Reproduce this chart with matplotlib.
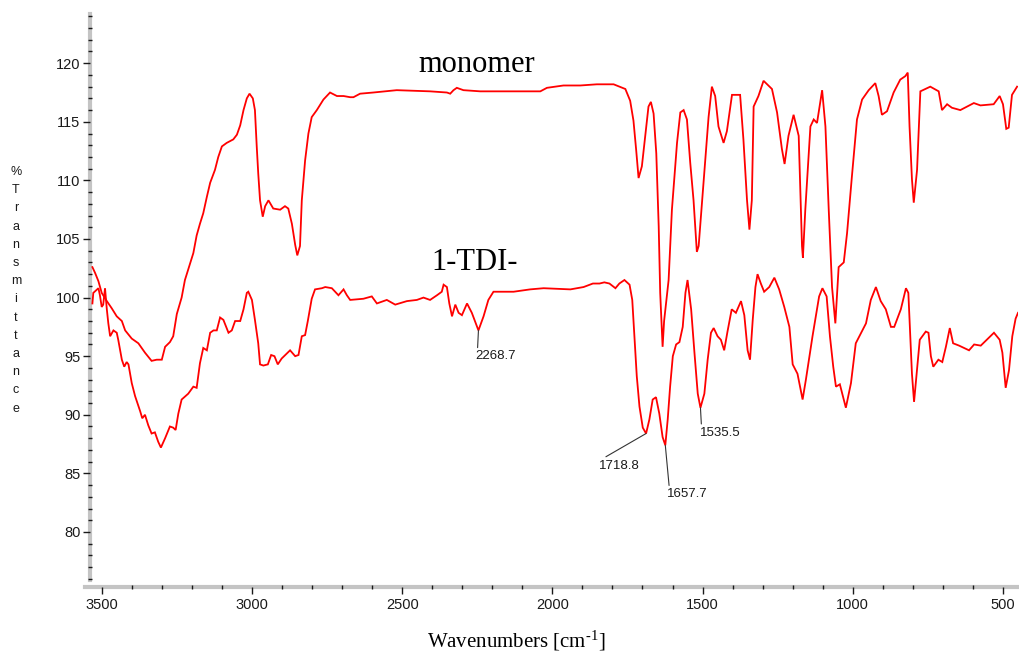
import numpy as np
import matplotlib
matplotlib.use("Agg")
import matplotlib.pyplot as plt

plt.rcParams['mathtext.default'] = 'regular'

# ---------------- data ----------------
monomer_wn = [3531, 3522, 3511, 3500, 3483, 3467, 3450, 3433, 3422, 3400, 3378, 3356, 3334, 3317,
              3300, 3289, 3273, 3262, 3250, 3234, 3223, 3206, 3195, 3184, 3173, 3162, 3150, 3139,
              3123, 3112, 3100, 3084, 3062, 3050, 3039, 3028, 3017, 3008, 2997, 2990, 2984, 2979,
              2973, 2964, 2956, 2945, 2929, 2906, 2890, 2879, 2867, 2856, 2849, 2840, 2834, 2823,
              2812, 2801, 2784, 2762, 2740, 2717, 2695, 2673, 2662, 2640, 2596, 2518, 2407, 2351,
              2340, 2329, 2318, 2296, 2240, 2129, 2040, 2018, 1963, 1907, 1852, 1796, 1757, 1741,
              1730, 1721, 1713, 1702, 1690, 1680, 1672, 1663, 1654, 1646, 1641, 1633, 1628, 1613,
              1602, 1585, 1574, 1563, 1552, 1541, 1530, 1519, 1513, 1502, 1491, 1480, 1469, 1458,
              1447, 1430, 1419, 1402, 1375, 1364, 1352, 1344, 1336, 1330, 1314, 1297, 1269, 1252,
              1236, 1227, 1214, 1197, 1180, 1169, 1166, 1158, 1141, 1130, 1119, 1102, 1091, 1080,
              1069, 1058, 1047, 1030, 1019, 1003, 986, 969, 947, 925, 914, 903, 886, 864, 842, 825,
              817, 811, 803, 797, 786, 775, 742, 714, 703, 686, 670, 642, 597, 575, 531, 511, 500,
              489, 481, 470, 453]
monomer_T = [102.6, 102.1, 101.4, 100.4, 99.7, 99.1, 98.4, 98.0, 97.2, 96.5, 96.1, 95.3, 94.6, 94.7,
             94.7, 95.8, 96.2, 96.7, 98.6, 100.0, 101.5, 102.9, 103.8, 105.3, 106.3, 107.2, 108.6, 109.8,
             110.9, 112.0, 112.9, 113.2, 113.5, 113.9, 114.7, 116.0, 117.0, 117.4, 117.0, 116.0, 112.9, 110.6,
             108.3, 106.9, 107.8, 108.3, 107.6, 107.5, 107.8, 107.6, 106.3, 104.5, 103.6, 104.4, 108.3, 111.7,
             114.0, 115.4, 116.0, 116.9, 117.5, 117.2, 117.2, 117.1, 117.1, 117.4, 117.5, 117.7, 117.6, 117.5,
             117.4, 117.7, 117.9, 117.7, 117.6, 117.6, 117.6, 117.9, 118.1, 118.1, 118.2, 118.2, 117.8, 116.8,
             115.1, 112.6, 110.2, 111.2, 114.0, 116.3, 116.7, 115.7, 112.3, 106.1, 100.4, 95.8, 98.0, 101.5,
             107.5, 113.2, 115.8, 116.0, 115.2, 111.5, 108.3, 103.9, 104.4, 108.1, 111.7, 115.4, 118.0, 117.2,
             114.6, 113.2, 114.2, 117.3, 117.3, 113.5, 108.3, 105.8, 108.3, 116.3, 117.2, 118.5, 117.8, 115.8,
             112.7, 111.4, 113.8, 115.6, 113.8, 104.4, 103.4, 107.5, 114.6, 115.2, 114.9, 117.7, 114.6, 107.5,
             100.9, 97.8, 102.6, 103.0, 105.5, 110.3, 115.2, 116.9, 117.7, 118.3, 117.2, 115.6, 115.9, 117.5, 118.6, 118.9,
             119.2, 114.6, 110.1, 108.1, 110.9, 117.6, 118.0, 117.6, 116.0, 116.5, 116.2, 116.0, 116.6, 116.4, 116.5, 117.2, 116.5,
             114.4, 114.5, 117.3, 118.0]

tdi_wn = [3531, 3528, 3511, 3506, 3500, 3495, 3489, 3483, 3478, 3472, 3461, 3450, 3445, 3433, 3425,
          3417, 3411, 3400, 3389, 3372, 3365, 3356, 3345, 3334, 3323, 3312, 3303, 3289, 3273, 3262,
          3254, 3245, 3234, 3212, 3195, 3184, 3173, 3162, 3150, 3139, 3128, 3117, 3106, 3095, 3078,
          3067, 3056, 3039, 3028, 3017, 3012, 3000, 2990, 2979, 2973, 2962, 2947, 2936, 2925, 2914,
          2901, 2873, 2856, 2845, 2834, 2823, 2814, 2801, 2790, 2767, 2756, 2734, 2712, 2695, 2684,
          2673, 2629, 2601, 2584, 2551, 2523, 2484, 2451, 2429, 2407, 2384, 2368, 2362, 2351, 2343,
          2334, 2323, 2312, 2301, 2284, 2268, 2246, 2229, 2213, 2196, 2129, 2074, 2029, 1940, 1896,
          1865, 1843, 1827, 1810, 1790, 1777, 1760, 1743, 1734, 1727, 1719, 1710, 1699, 1688, 1677,
          1666, 1655, 1644, 1633, 1624, 1616, 1608, 1599, 1588, 1577, 1566, 1557, 1550, 1538, 1527,
          1516, 1507, 1494, 1483, 1472, 1463, 1450, 1439, 1428, 1417, 1403, 1389, 1372, 1361, 1350,
          1342, 1333, 1324, 1317, 1306, 1295, 1278, 1261, 1245, 1228, 1211, 1200, 1184, 1167, 1156,
          1134, 1112, 1101, 1087, 1076, 1065, 1056, 1043, 1023, 1006, 990, 956, 940, 923, 907, 890,
          873, 862, 840, 823, 815, 810, 803, 796, 788, 777, 757, 748, 740, 732, 715, 702, 690, 677,
          666, 646, 613, 596, 574, 530, 511, 502, 491, 480, 469, 458, 450]
tdi_T = [99.5, 100.4, 100.8, 100.2, 99.2, 99.4, 100.8, 99.0, 97.8, 96.7, 97.2, 97.0, 96.4, 94.7, 94.1,
         94.5, 94.3, 92.7, 91.6, 90.3, 89.7, 90.0, 89.1, 88.4, 88.5, 87.7, 87.2, 88.0, 89.0, 88.9,
         88.7, 90.1, 91.3, 91.8, 92.4, 92.3, 94.4, 95.7, 95.5, 97.0, 97.2, 97.2, 98.3, 98.1, 97.0,
         97.2, 98.0, 98.0, 99.0, 100.4, 100.5, 99.8, 98.1, 96.1, 94.3, 94.2, 94.3, 95.1, 95.0, 94.3,
         94.8, 95.5, 95.0, 95.1, 96.7, 96.8, 98.0, 99.9, 100.7, 100.8, 100.9, 100.8, 100.2, 100.7, 100.2,
         99.8, 99.9, 100.1, 99.5, 99.8, 99.4, 99.7, 99.8, 100.0, 99.8, 100.2, 100.5, 101.1, 100.9, 99.5,
         98.4, 99.4, 98.7, 98.5, 99.5, 98.7, 97.2, 98.4, 99.8, 100.5, 100.5, 100.7, 100.8, 100.7, 100.9,
         101.2, 101.2, 101.3, 101.2, 100.8, 101.2, 101.5, 101.1, 99.8, 96.7, 93.3, 90.7, 88.9, 88.4, 89.6,
         91.3, 91.5, 90.1, 88.1, 87.4, 89.6, 92.4, 95.0, 96.0, 96.2, 97.5, 100.4, 101.5, 99.0, 95.3,
         91.8, 90.6, 91.8, 94.7, 97.0, 97.4, 96.7, 96.4, 95.5, 97.1, 99.0, 98.7, 99.7, 98.5, 95.5,
         94.7, 98.1, 100.9, 102.0, 101.2, 100.5, 100.9, 101.7, 100.7, 99.2, 97.5, 94.3, 93.5, 91.3, 93.0,
         96.7, 100.1, 100.8, 100.1, 96.7, 94.1, 92.4, 92.6, 90.6, 92.7, 96.1, 97.8, 99.8, 100.9, 99.7, 99.0,
         97.5, 97.5, 99.0, 100.8, 100.4, 97.5, 93.5, 91.1, 93.3, 96.4, 97.1, 97.0, 95.0, 94.1, 94.7, 94.5, 95.8, 97.4,
         96.1, 95.9, 95.5, 96.0, 95.9, 97.0, 96.4, 95.3, 92.3, 93.8, 96.7, 98.2, 98.7]

peak_labels = ["2268.7", "1718.8", "1657.7", "1535.5"]
peak_pos = [2246, 1688, 1624, 1507]          # where the label leaders touch the curve (axis units)

x_major = [3500, 3000, 2500, 2000, 1500, 1000, 500]
y_major = [80, 85, 90, 95, 100, 105, 110, 115, 120]

# ---------------- figure ----------------
W, H = 1019, 653
fig = plt.figure(figsize=(W / 100, H / 100), dpi=100)
fig.patch.set_facecolor('white')
ax = fig.add_axes([90 / W, 1 - 580 / H, (1018 - 90) / W, (580 - 14) / H])
ax.set_facecolor('white')

red = '#ff0000'
ax.plot(monomer_wn, monomer_T, color=red, lw=1.3, solid_joinstyle='miter')
ax.plot(tdi_wn, tdi_T, color=red, lw=1.3, solid_joinstyle='miter')

ax.set_xlim(3539, 450)
ax.set_ylim(75.9, 124.2)

for s in ['top', 'right']:
    ax.spines[s].set_visible(False)
for s in ['left', 'bottom']:
    ax.spines[s].set_color('#c4c4c4')
    ax.spines[s].set_linewidth(3.0)
    ax.spines[s].set_zorder(0.5)
ax.spines['bottom'].set_position(('outward', 5))
ax.spines['bottom'].set_bounds(3556, 450)

ax.set_xticks(x_major)
ax.set_xticks(np.arange(3500, 449, -100), minor=True)
ax.set_yticks(y_major)
ax.set_yticks(np.arange(76, 125, 1), minor=True)
ax.set_xticklabels([str(v) for v in x_major])
ax.set_yticklabels([str(v) for v in y_major])

tickc = '#1a1a1a'
ax.tick_params(axis='both', which='major', direction='out', length=5, width=1.0,
               color=tickc, labelsize=10.5, labelcolor='#1a1a1a')
ax.tick_params(axis='both', which='minor', direction='inout', length=3, width=1.0, color=tickc)
ax.tick_params(axis='x', which='major', pad=3)
ax.tick_params(axis='y', which='major', pad=2)
for lab in ax.get_xticklabels() + ax.get_yticklabels():
    lab.set_fontfamily('Liberation Sans')

# vertical stacked y label
ylabel = "%Transmittance"
for i, ch in enumerate(ylabel):
    fig.text(16 / W, 1 - (172 + i * 18.2) / H, ch, ha='center', va='center',
             fontsize=9, family='Liberation Sans', color='#1a1a1a')

# x label (hyphen, not minus, in the superscript as in the original)
fig.text(516 / W, 1 - 647 / H, 'Wavenumbers [cm$^{\u20101}$]', ha='center', va='baseline',
         fontsize=15, family=['Liberation Serif', 'DejaVu Serif'], color='black')

# curve names
fig.text(477 / W, 1 - 72 / H, 'monomer', ha='center', va='baseline',
         fontsize=22, family='Liberation Serif', color='black')
fig.text(475 / W, 1 - 270 / H, '1-TDI-', ha='center', va='baseline',
         fontsize=22, family='Liberation Serif', color='black')

# peak annotations
offsets = [(-3, -20), (-47, -26), (2, -43), (-1, -19)]
for lab, pos, off in zip(peak_labels, peak_pos, offsets):
    yv = np.interp(pos, tdi_wn[::-1], tdi_T[::-1])
    ax.annotate(lab, xy=(pos, yv), xytext=off, textcoords='offset pixels',
                ha='left', va='top', fontsize=9.5, family='Liberation Sans', color='#1a1a1a',
                arrowprops=dict(arrowstyle='-', color='#333333', lw=0.8,
                                shrinkA=0, shrinkB=0, relpos=(0.05, 1.0)))

fig.savefig('out.png', dpi=100, facecolor='white')
